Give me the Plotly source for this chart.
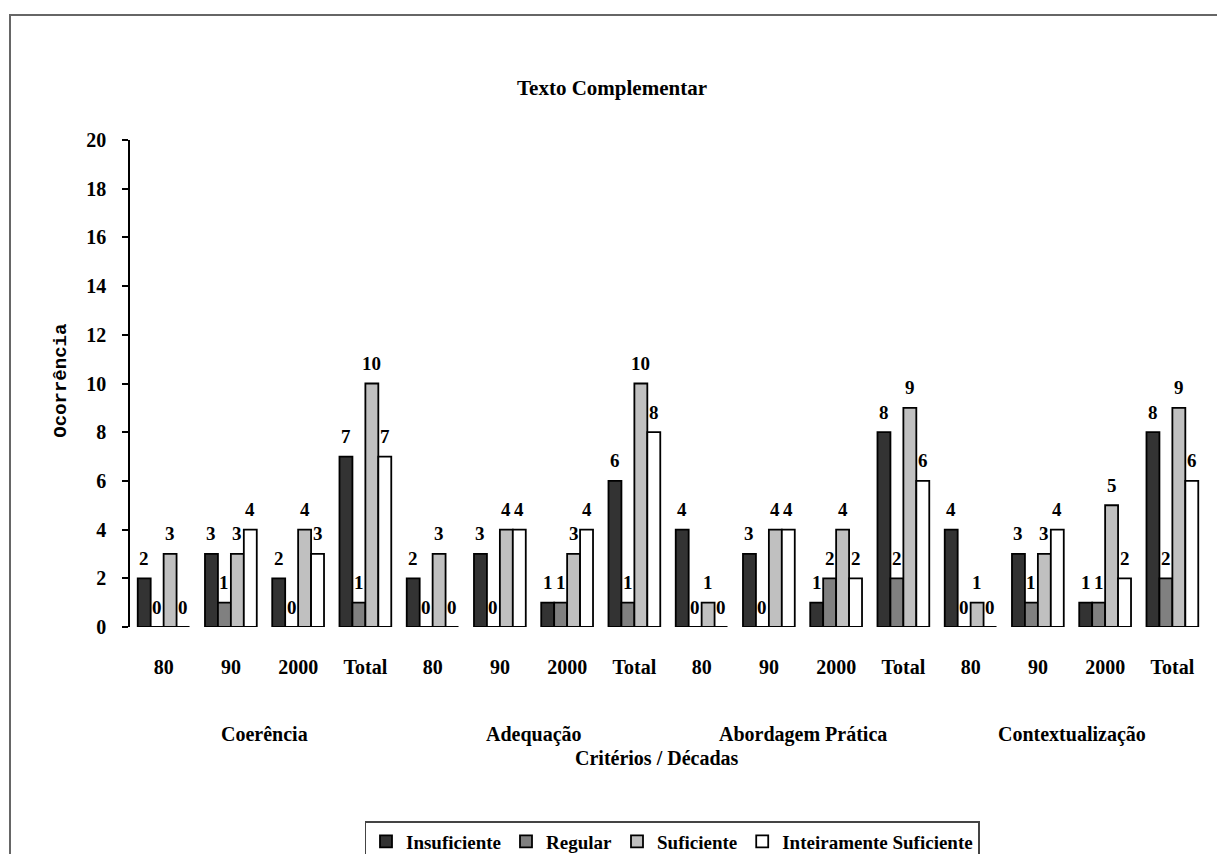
import plotly.graph_objects as go

criterios = ["Coerência", "Adequação", "Abordagem Prática", "Contextualização"]
decadas = ["80", "90", "2000", "Total"]
series_names = ["Insuficiente", "Regular", "Suficiente", "Inteiramente Suficiente"]
insuficiente = [2, 3, 2, 7, 2, 3, 1, 6, 4, 3, 1, 8, 4, 3, 1, 8]
regular = [0, 1, 0, 1, 0, 0, 1, 1, 0, 0, 2, 2, 0, 1, 1, 2]
suficiente = [3, 3, 4, 10, 3, 4, 3, 10, 1, 4, 4, 9, 1, 3, 5, 9]
inteiramente = [0, 4, 3, 7, 0, 4, 4, 8, 0, 4, 2, 6, 0, 4, 2, 6]
y_ticks = [0, 2, 4, 6, 8, 10, 12, 14, 16, 18, 20]

series_values = [insuficiente, regular, suficiente, inteiramente]
colors = ["#333333", "#808080", "#c0c0c0", "#ffffff"]

n_cat = len(criterios) * len(decadas)
xs = list(range(n_cat))
tick_text = [d for _ in criterios for d in decadas]

group_frac = 0.77
bw = group_frac / len(series_values)
serif = "Liberation Serif, Times New Roman, serif"

fig = go.Figure()
annotations = []
for k, (name, vals, col) in enumerate(zip(series_names, series_values, colors)):
    off = -group_frac / 2 + k * bw
    fig.add_trace(go.Bar(
        x=xs, y=vals, name=name, width=bw, offset=off,
        marker=dict(color=col, line=dict(color="#000000", width=1.8)),
    ))
    for xi, v in zip(xs, vals):
        annotations.append(dict(
            x=xi + off + bw / 2, y=v, xref="x", yref="y", text=str(v),
            showarrow=False, yshift=20, xanchor="center", yanchor="middle",
            font=dict(family=serif, size=19, color="#000000", weight="bold"),
        ))

for g, name in enumerate(criterios):
    center = g * len(decadas) + (len(decadas) - 1) / 2
    annotations.append(dict(
        x=center, y=-0.22, xref="x", yref="paper", text=name, showarrow=False,
        xanchor="center", yanchor="middle",
        font=dict(family=serif, size=20, color="#000000", weight="bold"),
    ))

annotations.append(dict(
    x=-0.0645, y=0.505, xref="paper", yref="paper", text="Ocorrência", showarrow=False,
    textangle=-90, xanchor="center", yanchor="middle",
    font=dict(family="Liberation Mono, Courier New, monospace", size=19, color="#000000", weight="bold"),
))
annotations.append(dict(
    x=0.49, y=-0.269, xref="paper", yref="paper", text="Critérios / Décadas", showarrow=False,
    xanchor="center", yanchor="middle",
    font=dict(family=serif, size=20, color="#000000", weight="bold"),
))

L, R, T, B = 130, 11, 140, 227
W, H = 1217, 854
pw, ph = W - L - R, H - T - B

fig.update_layout(
    width=W, height=H,
    margin=dict(l=L, r=R, t=T, b=B, autoexpand=False),
    paper_bgcolor="#ffffff", plot_bgcolor="#ffffff",
    barmode="overlay",
    showlegend=True,
    title=dict(text="<b>Texto Complementar</b>", x=(612) / W, xanchor="center",
               y=1 - 88 / H, yanchor="middle",
               font=dict(family=serif, size=21, color="#000000")),
    xaxis=dict(
        range=[-0.5, n_cat - 0.5], tickmode="array", tickvals=xs, ticktext=tick_text,
        showline=False, showgrid=False, zeroline=False, ticks="outside",
        ticklen=22, tickcolor="rgba(0,0,0,0)",
        tickfont=dict(family=serif, size=20, color="#000000", weight="bold"),
    ),
    yaxis=dict(
        range=[0, 20], tickmode="array", tickvals=y_ticks,
        showline=True, linecolor="#000000", linewidth=1.5,
        ticks="outside", ticklen=6, tickcolor="#000000", tickwidth=1.5,
        showgrid=False, zeroline=False, ticklabelstandoff=12,
        tickfont=dict(family=serif, size=20, color="#000000", weight="bold"),
    ),
    legend=dict(
        orientation="h", x=(672 - L) / pw, xanchor="center",
        y=(H - B - 821) / ph, yanchor="top",
        bordercolor="#444444", borderwidth=1.5, bgcolor="#ffffff",
        font=dict(family=serif, size=19, color="#000000", weight="bold"),
        traceorder="normal", itemwidth=30, tracegroupgap=0,
    ),
    annotations=annotations,
    shapes=[dict(
        type="rect", xref="paper", yref="paper",
        x0=(10 - L) / pw, x1=(W + 20 - L) / pw,
        y0=(H - B - (H + 20)) / ph, y1=(H - B - 15) / ph,
        line=dict(color="#666666", width=2), fillcolor="rgba(0,0,0,0)", layer="below",
    )],
)

fig.write_html("out.html")
